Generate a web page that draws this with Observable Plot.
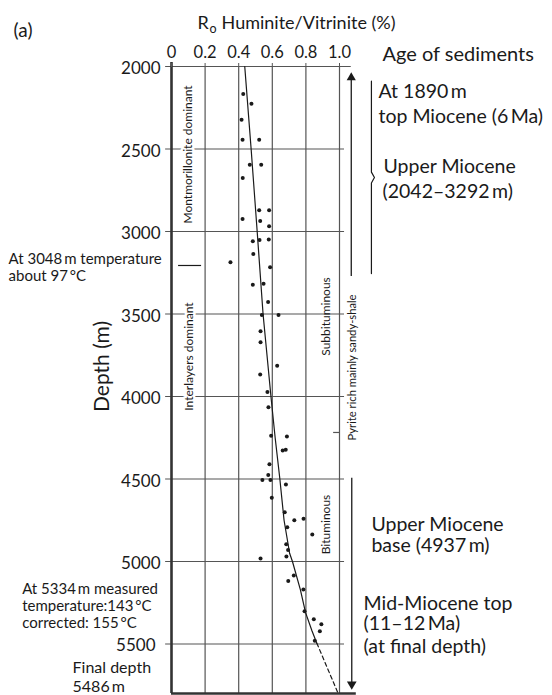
<!DOCTYPE html>
<html><head><meta charset="utf-8">
<script src="https://cdn.jsdelivr.net/npm/d3@7"></script>
<script src="https://cdn.jsdelivr.net/npm/@observablehq/plot@0.6"></script>
<style>body{margin:0;background:#fff}</style>
</head><body><div id="chart"></div>
<script>
// ---- data ----
const roTicks = [0, 0.2, 0.4, 0.6, 0.8, 1.0];
const depthTicks = [2000, 2500, 3000, 3500, 4000, 4500, 5000, 5500];

const sampleRo = [0.427,0.476,0.417,0.423,0.522,0.466,0.534,0.424,0.522,0.581,0.423,0.528,0.581,0.484,0.524,0.579,0.487,
  0.351,0.587,0.484,0.548,0.575,0.538,0.637,0.530,0.530,0.629,0.528,0.571,0.577,0.593,0.687,
  0.662,0.680,0.583,0.576,0.541,0.589,0.681,0.597,0.674,0.731,0.786,0.689,0.838,0.683,0.694,0.684,0.530,0.728,0.695,0.785,0.792,0.847,0.892,0.883,0.853];
const sampleDepth = [2166,2225,2323,2444,2444,2595,2595,2676,2871,2871,2924,2936,2968,3059,3051,3049,3137,
  3186,3216,3323,3316,3428,3506,3506,3605,3671,3814,3866,3972,4065,4238,4242,
  4328,4323,4410,4476,4506,4506,4534,4613,4702,4750,4741,4792,4837,4895,4930,4970,4982,5085,5118,5170,5301,5350,5380,5422,5481];

const trendDepth = [2000,2500,3000,3500,4000,4250,4500,4750,4950,5000,5170,5310,5420,5495];
const trendRo    = [0.436,0.474,0.510,0.545,0.592,0.617,0.645,0.670,0.703,0.720,0.767,0.798,0.836,0.865];
const extrapDepth = [5495, 5795];
const extrapRo    = [0.865, 0.990];

const trend = trendDepth.map((d, i) => ({d, ro: trendRo[i]}));
const extrap = extrapDepth.map((d, i) => ({d, ro: extrapRo[i]}));
const samples = sampleDepth.map((d, i) => ({d, ro: sampleRo[i]}));

// annotation texts (positions in data units: Ro, depth)
const zoneLabels = [
  {text: "Montmorillonite dominant", ro: 0.101, d: 2533, halo: true},
  {text: "Interlayers dominant", ro: 0.107, d: 3758, halo: true},
  {text: "Subbituminous", ro: 0.923, d: 3515, halo: false},
  {text: "Bituminous", ro: 0.923, d: 4776, halo: false}
];
const ageNotes = [
  {text: "At 1890\u2009m", ro: 1.232, d: 2188},
  {text: "top Miocene (6\u2009Ma)", ro: 1.232, d: 2345},
  {text: "Upper Miocene", ro: 1.262, d: 2648},
  {text: "(2042\u20133292\u2009m)", ro: 1.256, d: 2794},
  {text: "Upper Miocene", ro: 1.190, d: 4818},
  {text: "base (4937\u2009m)", ro: 1.190, d: 4945},
  {text: "Mid-Miocene top", ro: 1.143, d: 5291},
  {text: "(11\u201312\u2009Ma)", ro: 1.143, d: 5418},
  {text: "(at final depth)", ro: 1.143, d: 5552}
];
const tempNotes = [
  {text: "At 3048\u2009m temperature", ro: -0.970, d: 3194},
  {text: "about 97\u2009\u00B0C", ro: -0.970, d: 3297},
  {text: "At 5334\u2009m measured", ro: -0.889, d: 5194},
  {text: "temperature:143\u2009\u00B0C", ro: -0.889, d: 5297},
  {text: "corrected: 155\u2009\u00B0C", ro: -0.889, d: 5400}
];
const finalNotes = [
  {text: "Final depth", ro: -0.589, d: 5673},
  {text: "5486\u2009m", ro: -0.589, d: 5788}
];
const bracket = [[1.190,2089],[1.190,2640],[1.208,2673],[1.190,2706],[1.190,3255]];

const ink = "#1a1a1a", grid = "#555";
const font = "Lato";

const chart = Plot.plot({
  width: 552, height: 695,
  marginLeft: 171, marginRight: 213, marginTop: 66, marginBottom: 2,
  style: {fontFamily: font, background: "#fff", color: ink, overflow: "visible"},
  x: {domain: [0, 1], axis: null},
  y: {domain: [2000, 5800], reverse: true, axis: null},
  marks: [
    // grid
    Plot.ruleY(depthTicks, {y: d => d, x1: -0.035, x2: d => d === 2000 ? 1.07 : 1.03, stroke: grid, strokeWidth: 1.2}),
    Plot.ruleX(roTicks.filter(v => v > 0), {x: d => d, y1: 2000, y2: 5800, stroke: grid, strokeWidth: 1.2}),
    Plot.ruleX([0], {y1: 1975, y2: 5800, stroke: "#333", strokeWidth: 2.6}),
    Plot.ruleY([5800], {x1: 0, x2: 1.1, stroke: "#333", strokeWidth: 2.6}),
    Plot.ruleY([4218], {x1: 0.965, x2: 1.0, stroke: grid, strokeWidth: 1.2}),
    Plot.ruleY([3206], {x1: 0.042, x2: 0.179, stroke: ink, strokeWidth: 1.2}),
    // axes
    Plot.axisX(roTicks, {anchor: "top", label: null, tickSize: 4, tickPadding: 5, fontSize: 16.5, stroke: grid,
      tickFormat: v => v === 0 ? "0" : v.toFixed(1), fill: ink}),
    Plot.axisY(depthTicks.filter(v => v < 5500), {anchor: "left", label: null, tickSize: 0, tickPadding: 11, fontSize: 17,
      dy: 2.5, fill: ink, tickFormat: v => String(v)}),
    Plot.axisY([5500], {anchor: "left", label: null, tickSize: 0, tickPadding: 16, fontSize: 17, dy: 1.5, fill: ink,
      tickFormat: v => String(v)}),
    // zone labels
    Plot.text(zoneLabels, {x: "ro", y: "d", text: "text", rotate: -90, fontSize: 12, fill: ink,
      stroke: d => d.halo ? "#fff" : "none", strokeWidth: 5}),
    Plot.text(["Pyrite rich mainly sandy-shale"], {x: 1.077, y: 3824, text: d => d, rotate: -90, fontSize: 11.2, fill: ink}),
    // trend
    Plot.line(trend, {x: "ro", y: "d", stroke: ink, strokeWidth: 1.2}),
    Plot.line(extrap, {x: "ro", y: "d", stroke: ink, strokeWidth: 1.2, strokeDasharray: "4,3"}),
    // samples
    Plot.dot(samples, {x: "ro", y: "d", r: 2, fill: ink}),
    // age arrows & bracket
    Plot.ruleX([1.07], {y1: 2070, y2: 3273, stroke: ink, strokeWidth: 1.3}),
    Plot.dot([[1.07, 2067]], {x: d => d[0], y: d => d[1], symbol: "triangle", r: 3.4, fill: ink}),
    Plot.ruleX([1.073], {y1: 4495, y2: 5740, stroke: ink, strokeWidth: 1.3}),
    Plot.dot([[1.073, 5744]], {x: d => d[0], y: d => d[1], symbol: "triangle", r: 3.6, rotate: 180, fill: ink}),
    Plot.line(bracket, {x: d => d[0], y: d => d[1], stroke: ink, strokeWidth: 1.2}),
    // texts
    Plot.text(ageNotes, {x: "ro", y: "d", text: "text", textAnchor: "start", lineAnchor: "bottom", fontSize: 19.5, fill: ink}),
    Plot.text(["Age of sediments"], {x: 1.256, y: 1964, text: d => d, textAnchor: "start", lineAnchor: "bottom", fontSize: 20, fill: ink}),
    Plot.text(tempNotes, {x: "ro", y: "d", text: "text", textAnchor: "start", lineAnchor: "bottom", fontSize: 15, fill: ink}),
    Plot.text(finalNotes, {x: "ro", y: "d", text: "text", textAnchor: "start", lineAnchor: "bottom", fontSize: 16, fill: ink}),
    Plot.text(["Depth (m)"], {x: -0.411, y: 3818, text: d => d, rotate: -90, fontSize: 21, fill: ink}),
    Plot.text(["(a)"], {x: -0.940, y: 1782, text: d => d, textAnchor: "start", fontSize: 19, fill: ink}),
    Plot.text(["R"], {x: 0.155, y: 1770, text: d => d, textAnchor: "start", lineAnchor: "bottom", fontSize: 18, fill: ink}),
    Plot.text(["o"], {x: 0.226, y: 1794, text: d => d, textAnchor: "start", lineAnchor: "bottom", fontSize: 12.5, fill: ink}),
    Plot.text(["Huminite/Vitrinite (%)"], {x: 0.298, y: 1770, text: d => d, textAnchor: "start", lineAnchor: "bottom", fontSize: 18, fill: ink})
  ]
});
document.getElementById("chart").appendChild(chart);
</script>
</body></html>
